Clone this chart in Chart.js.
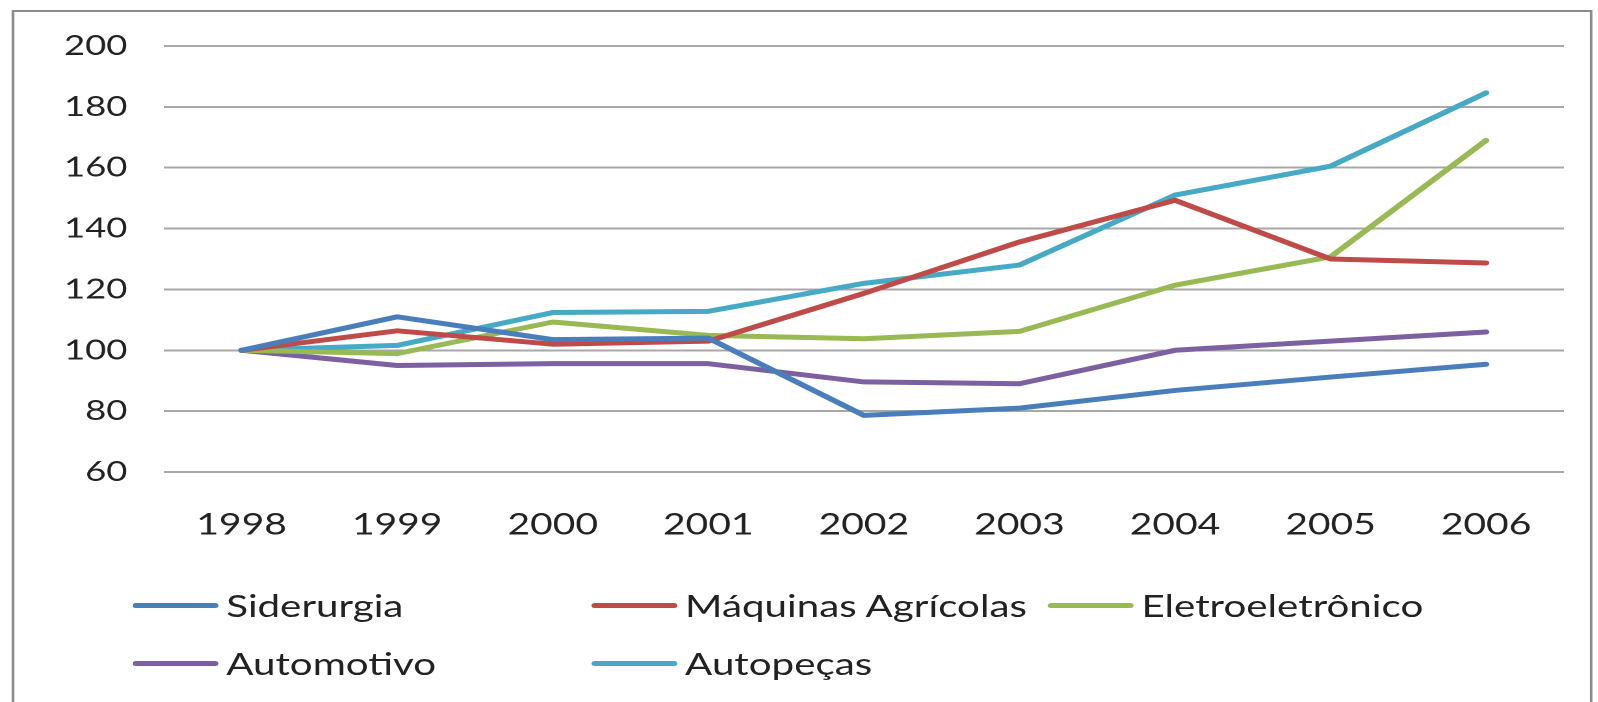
<!DOCTYPE html>
<html>
<head>
<meta charset="utf-8">
<script src="https://cdn.jsdelivr.net/npm/chart.js@4"></script>
<style>
  html, body { margin: 0; padding: 0; background: #fff; overflow: hidden; }
  #wrap {
    position: absolute; left: 0; top: 0;
    width: 1229px; height: 702px;
    transform: scaleX(1.3); transform-origin: 0 0;
  }
  #frame {
    position: absolute; left: 9px; top: 10px;
    width: 1212px; height: 720px;
    border: 2px solid #8c8c8c;
  }
  #chart { position: absolute; left: 0; top: 0; }
  #legend { position: absolute; left: 0; top: 0; font-family: Lato, sans-serif; font-size: 31px; color: #222; }
  .item { position: absolute; display: flex; align-items: center; white-space: nowrap; }
  .swatch { width: 66px; height: 5px; border-radius: 3px; margin-right: 6px; }
</style>
</head>
<body>
<div id="wrap">
  <div id="frame"></div>
  <canvas id="chart" width="1229" height="702"></canvas>
  <div id="legend"></div>
</div>
<script>
// ==========================
// DADOS
// ==========================
const anos = ["1998", "1999", "2000", "2001", "2002", "2003", "2004", "2005", "2006"];
const siderurgia = [100, 111, 103.5, 104, 78.6, 81, 86.8, 91.2, 95.4];
const maquinasAgricolas = [100, 106.4, 102, 103, 118.7, 135.6, 149.3, 130, 128.7];
const eletroeletronico = [100, 98.9, 109.3, 104.9, 103.8, 106.2, 121.4, 130.7, 169];
const automotivo = [100, 95, 95.6, 95.6, 89.6, 89, 100, 103, 106];
const autopecas = [100, 101.6, 112.4, 112.8, 122, 128, 151, 160.5, 184.6];
const yMin = 60, yMax = 200, yStep = 20;

const series = [
  { label: "Siderurgia", data: siderurgia, color: "#4a7ebb" },
  { label: "Máquinas Agrícolas", data: maquinasAgricolas, color: "#be4b48" },
  { label: "Eletroeletrônico", data: eletroeletronico, color: "#98b954" },
  { label: "Automotivo", data: automotivo, color: "#7d60a0" },
  { label: "Autopeças", data: autopecas, color: "#46aac5" }
];

// ==========================
// GRÁFICO
// ==========================
new Chart(document.getElementById("chart"), {
  type: "line",
  data: {
    labels: anos,
    datasets: series.map(s => ({
      label: s.label,
      data: s.data,
      borderColor: s.color,
      backgroundColor: s.color,
      borderWidth: 5,
      borderCapStyle: "round",
      borderJoinStyle: "round",
      pointRadius: 0,
      tension: 0,
      fill: false
    }))
  },
  options: {
    responsive: false,
    animation: false,
    devicePixelRatio: 2,
    layout: { padding: { top: 46, right: 26, bottom: 0, left: 0 } },
    plugins: { legend: { display: false }, tooltip: { enabled: false } },
    scales: {
      x: {
        offset: true,
        grid: { display: false },
        border: { display: false },
        ticks: { color: "#222", font: { family: "Lato", size: 30 }, padding: 27, maxRotation: 0 },
        afterFit: (s) => { s.height = 230; }
      },
      y: {
        min: yMin,
        max: yMax,
        grid: { color: "#a8a8a8", lineWidth: 2, drawTicks: false },
        border: { display: false },
        ticks: { stepSize: yStep, color: "#222", font: { family: "Lato", size: 28 }, padding: 28 },
        afterFit: (s) => { s.width = 126; }
      }
    }
  }
});

// legenda em duas linhas, como no original
const legendPos = [[102, 606], [455, 606], [806, 606], [102, 664], [455, 664]];
const legend = document.getElementById("legend");
series.forEach((s, i) => {
  const item = document.createElement("div");
  item.className = "item";
  item.style.left = legendPos[i][0] + "px";
  item.style.top = (legendPos[i][1] - 20) + "px";
  item.innerHTML = '<span class="swatch" style="background:' + s.color + '"></span><span>' + s.label + '</span>';
  legend.appendChild(item);
});
</script>
</body>
</html>
